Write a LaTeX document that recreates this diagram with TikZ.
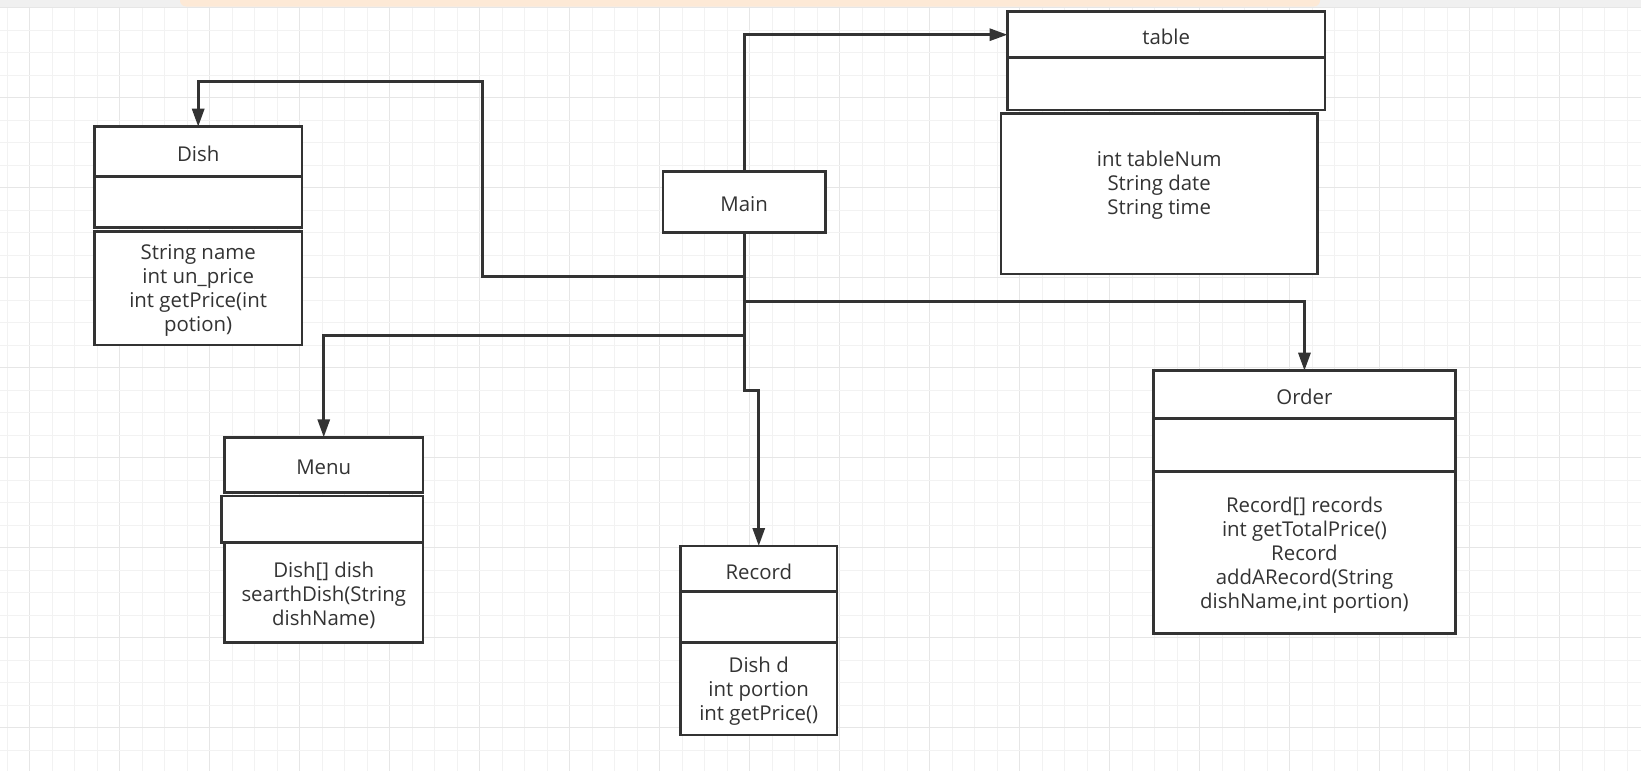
\documentclass[tikz,border=0pt]{standalone}
\usepackage{fontspec}
\setmainfont{Open Sans}
\usetikzlibrary{arrows.meta}
\definecolor{ink}{HTML}{333333}
\definecolor{gridminor}{HTML}{F2F2F2}
\definecolor{gridmajor}{HTML}{E6E6E6}
\definecolor{topbar}{HTML}{F0F0F0}
\definecolor{peach}{HTML}{FDE9D6}
\begin{document}
\begin{tikzpicture}[x=1pt,y=-1pt,
  cls/.style={draw=ink, line width=2.5pt, fill=white, inner sep=0pt, outer sep=0pt,
    anchor=north west},
  txt/.style={inner sep=0pt, font=\fontsize{20.4}{24}\selectfont, text=ink, align=center, yshift=-2.5pt},
  conn/.style={draw=ink, line width=3pt, -{Triangle[length=18pt,width=12pt]}},
  gmin/.style={draw=gridminor, line width=1pt},
  gmaj/.style={draw=gridmajor, line width=1.2pt}]
\useasboundingbox (0,0) rectangle (1641,771);
\fill[white] (0,0) rectangle (1641,771);
% grid
\foreach \i in {0,...,72} {
  \pgfmathtruncatemacro{\m}{mod(\i+3,4)}
  \ifnum\m=0
    \draw[gmaj] ({7.2+22.5*\i},7) -- ({7.2+22.5*\i},771);
  \else
    \draw[gmin] ({7.2+22.5*\i},7) -- ({7.2+22.5*\i},771);
  \fi
}
\foreach \j in {0,...,33} {
  \pgfmathtruncatemacro{\m}{mod(\j,4)}
  \ifnum\m=0
    \draw[gmaj] (0,{7.7+22.5*\j}) -- (1641,{7.7+22.5*\j});
  \else
    \draw[gmin] (0,{7.7+22.5*\j}) -- (1641,{7.7+22.5*\j});
  \fi
}
% top bar
\fill[topbar] (0,0) rectangle (1641,7);
\fill[peach, rounded corners=6pt] (180,-12) rectangle (1320,6.5);

% Dish
\node[cls, minimum width=207.2pt, minimum height=50pt] (dishT) at (94.6,126.7) {};
\node[cls, minimum width=207.2pt, minimum height=50.6pt] (dishA) at (94.6,176.7) {};
\node[cls, minimum width=207.2pt, minimum height=113.3pt] (dishM) at (94.6,231.7) {};
\node[txt] (dishTtxt) at (dishT.center) {Dish};
\node[txt] (dishMtxt) at (dishM.center) {String name\\int un\_price\\int getPrice(int\\potion)};

% Main
\node[cls, minimum width=162.5pt, minimum height=60.6pt] (main) at (662.9,171.7) {};
\node[txt] (mainTxt) at (main.center) {Main};

% table
\node[cls, minimum width=317.5pt, minimum height=46pt] (tableT) at (1007.5,11.7) {};
\node[cls, minimum width=317.5pt, minimum height=52.3pt] (tableA) at (1007.5,57.7) {};
\node[cls, minimum width=316.4pt, minimum height=160.7pt] (tableM) at (1001,113.3) {};
\node[txt] (tableTtxt) at (tableT.center) {table};
\node[txt] (tableMtxt) at (1159.2,182.5) {int tableNum\\String date\\String time};

% Menu
\node[cls, minimum width=198.9pt, minimum height=55.4pt] (menuT) at (224.3,437.3) {};
\node[cls, minimum width=201.8pt, minimum height=46.7pt] (menuA) at (221.4,496) {};
\node[cls, minimum width=198.9pt, minimum height=99.7pt] (menuM) at (224.3,543) {};
\node[txt] (menuTtxt) at (menuT.center) {Menu};
\node[txt] (menuMtxt) at (menuM.center) {Dish[] dish\\searthDish(String\\dishName)};

% Record
\node[cls, minimum width=156.7pt, minimum height=45.7pt] (recordT) at (680.4,546) {};
\node[cls, minimum width=156.7pt, minimum height=51pt] (recordA) at (680.4,591.7) {};
\node[cls, minimum width=156.7pt, minimum height=92.3pt] (recordM) at (680.4,642.7) {};
\node[txt] (recordTtxt) at (recordT.center) {Record};
\node[txt] (recordMtxt) at (recordM.center) {Dish d\\int portion\\int getPrice()};

% Order
\node[cls, minimum width=301.9pt, minimum height=47.6pt] (orderT) at (1153.5,370.7) {};
\node[cls, minimum width=301.9pt, minimum height=53.4pt] (orderA) at (1153.5,418.3) {};
\node[cls, minimum width=301.9pt, minimum height=161.6pt] (orderM) at (1153.5,471.7) {};
\node[txt] (orderTtxt) at (orderT.center) {Order};
\node[txt] (orderMtxt) at (orderM.center) {Record[] records\\int getTotalPrice()\\Record\\addARecord(String\\dishName,int portion)};

% routing coordinates
\coordinate (rowDish) at (0,276.7);
\coordinate (rowDishTop) at (0,81.7);
\coordinate (colDish) at (482,0);
\coordinate (rowOrder) at (0,301);
\coordinate (rowMenu) at (0,335.7);
\coordinate (rowRec) at (0,390);

% connectors
\draw[conn] (main.north) |- (tableT.west);
\draw[conn] (main.south) |- (colDish |- rowDish) -- (colDish |- rowDishTop) -| (dishT.north);
\draw[conn] (main.south) |- (orderT.north |- rowOrder) -- (orderT.north);
\draw[conn] (main.south) |- (menuT.north |- rowMenu) -- (menuT.north);
\draw[conn] (main.south) |- (recordT.north |- rowRec) -- (recordT.north);
\end{tikzpicture}
\end{document}
